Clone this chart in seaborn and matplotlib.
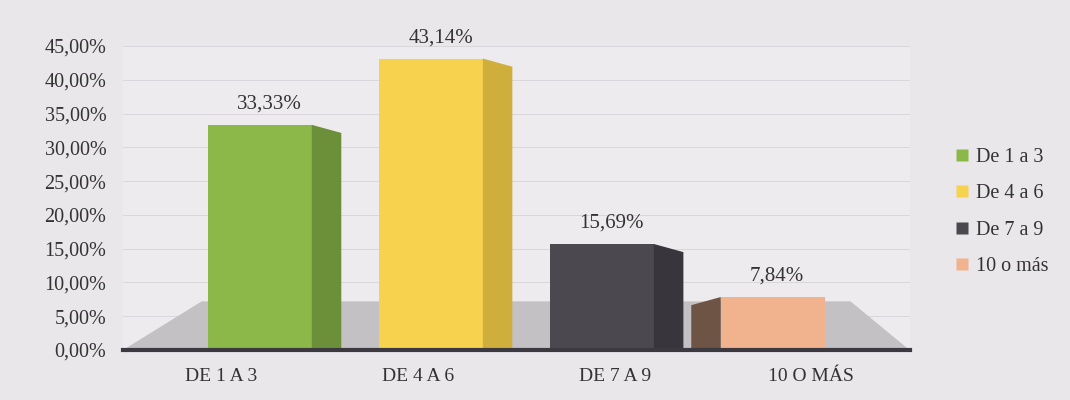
import matplotlib
matplotlib.use("Agg")
import matplotlib.pyplot as plt
import seaborn as sns
import pandas as pd
from matplotlib.ticker import FuncFormatter, MultipleLocator
from matplotlib.patches import Polygon
from matplotlib.lines import Line2D

categories = ["DE 1 A 3", "DE 4 A 6", "DE 7 A 9", "10 O MÁS"]
legend_labels = ["De 1 a 3", "De 4 a 6", "De 7 a 9", "10 o más"]
values = [33.33, 43.14, 15.69, 7.84]
front_colors = ["#8cb849", "#f6d24e", "#4b4850", "#f1b28e"]
side_colors = ["#6c8f3a", "#cfae3c", "#38363c", "#6e5444"]

sns.set_theme(style="white")
plt.rcParams["font.family"] = ["Liberation Serif", "DejaVu Serif"]

df = pd.DataFrame({"cat": categories, "val": values})

fig = plt.figure(figsize=(10.7, 4.0), dpi=100, facecolor="#e9e7ea")
ax = fig.add_axes([0.115, 0.125, 0.735, 0.76])
ax.set_facecolor("#edebee")

sns.barplot(data=df, x="cat", y="val", hue="cat", palette=front_colors,
            width=0.53, dodge=False, legend=False, ax=ax, saturation=1,
            linewidth=0, zorder=3)

ax.set_ylim(0, 45)
ax.set_xlim(-0.5, 3.5)
ax.yaxis.set_major_locator(MultipleLocator(5))
ax.yaxis.set_major_formatter(FuncFormatter(lambda v, p: f"{v:.2f}".replace(".", ",") + "%"))
ax.grid(axis="y", color="#d9d7db", linewidth=0.7)
ax.set_axisbelow(True)
for s in ["top", "right", "left"]:
    ax.spines[s].set_visible(False)
ax.spines["bottom"].set_color("#3c3a40")
ax.spines["bottom"].set_linewidth(3)
ax.spines["bottom"].set_zorder(5)
ax.tick_params(axis="y", length=0, labelsize=14.5, colors="#333333", pad=12)
ax.tick_params(axis="x", length=0, labelsize=14, colors="#333333", pad=13)
ax.set_xlabel("")
ax.set_ylabel("")

# gray floor of the pseudo-3D chart
ax.add_patch(Polygon([(-0.5, 0), (3.5, 0), (3.2, 7.2), (-0.1, 7.2)], closed=True,
                     facecolor="#c3c1c4", edgecolor="none", zorder=2))

# perspective shift and pseudo-3D side faces derived from bar geometry
dx = 0.15
dy = 1.2
n = len(values)
for i, patch in enumerate(ax.patches[:n]):
    shift = -(patch.get_x() + patch.get_width() / 2 - (n - 1) / 2) * 0.13
    patch.set_x(patch.get_x() + shift)
    x0 = patch.get_x()
    w = patch.get_width()
    h = patch.get_height()
    if i < 3:
        xs = x0 + w
        poly = [(xs, 0), (xs, h), (xs + dx, h - dy), (xs + dx, 0)]
    else:
        xs = x0
        poly = [(xs, 0), (xs, h), (xs - dx, h - dy), (xs - dx, 0)]
    ax.add_patch(Polygon(poly, closed=True, facecolor=side_colors[i],
                         edgecolor="none", zorder=3))
    ax.annotate(f"{values[i]:.2f}".replace(".", ",") + "%",
                (x0 + w / 2 + (0.05 if i < 3 else 0.02), h), xytext=(0, 8),
                textcoords="offset points", ha="center", va="bottom",
                fontsize=15, color="#333333", annotation_clip=False)

handles = [Line2D([0], [0], marker="s", linestyle="none", markersize=8,
                  markerfacecolor=c, markeredgecolor="none") for c in front_colors]
fig.legend(handles, legend_labels, loc="center left", bbox_to_anchor=(0.876, 0.47),
           frameon=False, fontsize=14.5, handlelength=0.7, handletextpad=0.3,
           labelspacing=0.85, labelcolor="#333333")

fig.savefig("out.png", dpi=100, facecolor=fig.get_facecolor())
